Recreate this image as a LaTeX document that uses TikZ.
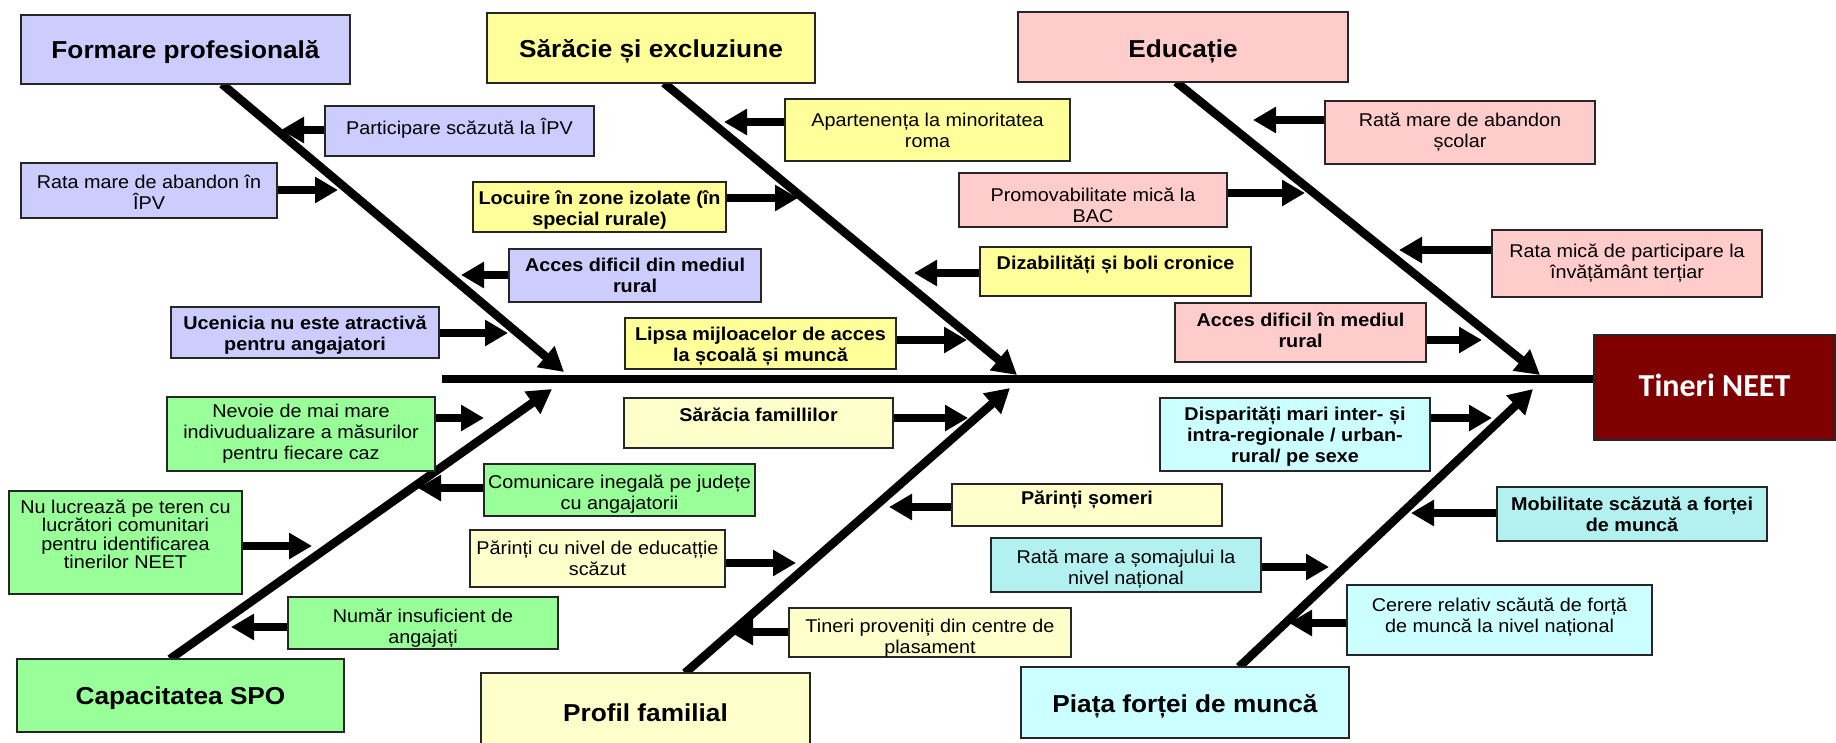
\documentclass[tikz,border=0pt]{standalone}
\usepackage{fontspec}
\setmainfont{Liberation Sans}[FakeStretch=1.07]
\newfontfamily\neetfont{Carlito}
\usetikzlibrary{arrows.meta,backgrounds}
\definecolor{lav}{HTML}{CCCCFF}
\definecolor{yel}{HTML}{FFFF99}
\definecolor{pnk}{HTML}{FFCCCC}
\definecolor{grn}{HTML}{99FF99}
\definecolor{lyel}{HTML}{FFFFCC}
\definecolor{cyn}{HTML}{CCFFFF}
\definecolor{cyntwo}{HTML}{B3F0F0}
\definecolor{neet}{HTML}{800000}
\tikzset{
  boxst/.style={draw=black!85, line width=1.4pt, inner sep=0pt, outer sep=0pt},
  titlebox/.style={boxst, line width=1.8pt},
  txt/.style={align=center, inner sep=0pt, font=\fontsize{18.5}{21}\selectfont},
  txtb/.style={txt, font=\fontsize{18.5}{21}\selectfont\bfseries},
  ttl/.style={align=center, inner sep=0pt, font=\fontsize{24.5}{28}\selectfont\bfseries},
  sarrow/.style={line width=8.5pt, -{Triangle[length=23pt,width=25pt]}},
  bone/.style={line width=8.5pt, -{Triangle[length=24pt,width=26pt]}},
  spine/.style={line width=8.5pt}
}
% #1 text shift (up), #2 name, #3 x1, #4 y1, #5 x2, #6 y2, #7 fill, #8 box style, #9 text style + text
\newcommand\mkbox[9]{%
  \node[#8,fill=#7,minimum width={(#5-#3)*1pt},minimum height={(#6-#4)*1pt},anchor=north west] (#2) at (#3,#4) {};
  \node[#9] (#2t) at ([yshift=#1pt]#2.center)}
\begin{document}
\begin{tikzpicture}[x=1pt,y=-1pt]
\useasboundingbox (0,0) rectangle (1836,742);
% main boxes
\mkbox{-3}{F}{21}{15}{350}{84}{lav}{titlebox}{ttl}{Formare profesională};
\mkbox{-3}{S}{487}{13}{815}{83}{yel}{titlebox}{ttl}{Sărăcie și excluziune};
\mkbox{-4}{E}{1018}{12}{1348}{82}{pnk}{titlebox}{ttl}{Educație};
\mkbox{-3}{C}{17}{659}{344}{732}{grn}{titlebox}{ttl}{Capacitatea SPO};
\mkbox{-3}{P}{481}{673}{810}{746}{lyel}{titlebox}{ttl}{Profil familial};
\mkbox{-4}{M}{1021}{667}{1349}{738}{cyn}{titlebox}{ttl}{Piața forței de muncă};
\mkbox{2}{T}{1594}{335}{1835}{440}{neet}{titlebox}{align=center,inner sep=0pt,text=white,font=\neetfont\bfseries\fontsize{32}{36}\selectfont}{Tineri NEET};
% sub boxes
\mkbox{3}{b1}{325}{106}{594}{156}{lav}{boxst}{txt}{Participare scăzută la ÎPV};
\mkbox{-2}{b2}{21}{163}{277}{218}{lav}{boxst}{txt}{Rata mare de abandon în\\ÎPV};
\mkbox{0}{b3}{509}{249}{761}{302}{lav}{boxst}{txtb}{Acces dificil din mediul\\rural};
\mkbox{-3}{b4}{171}{307}{439}{358}{lav}{boxst}{txtb}{Ucenicia nu este atractivă\\pentru angajatori};
\mkbox{0}{b5}{785}{99}{1070}{161}{yel}{boxst}{txt}{Apartenența la minoritatea\\roma};
\mkbox{-3}{b6}{473}{182}{726}{232}{yel}{boxst}{txtb}{Locuire în zone izolate (în\\special rurale)};
\mkbox{7}{b7}{980}{247}{1251}{296}{yel}{boxst}{txtb}{Dizabilități și boli cronice};
\mkbox{-3}{b8}{625}{318}{896}{369}{yel}{boxst}{txtb}{Lipsa mijloacelor de acces\\la școală și muncă};
\mkbox{0}{b9}{1325}{101}{1595}{164}{pnk}{boxst}{txt}{Rată mare de abandon\\școlar};
\mkbox{-5}{b10}{959}{173}{1227}{227}{pnk}{boxst}{txt}{Promovabilitate mică la\\BAC};
\mkbox{0}{b11}{1492}{230}{1762}{297}{pnk}{boxst}{txt}{Rata mică de participare la\\învățământ terțiar};
\mkbox{2}{b12}{1175}{303}{1426}{362}{pnk}{boxst}{txtb}{Acces dificil în mediul\\rural};
\mkbox{0}{b13}{167}{397}{435}{471}{grn}{boxst}{txt}{Nevoie de mai mare\\indivudualizare a măsurilor\\pentru fiecare caz};
\mkbox{-4}{b14}{484}{464}{755}{516}{grn}{boxst}{txt}{Comunicare inegală pe județe\\cu angajatorii};
\mkbox{8}{b15}{9}{491}{242}{594}{grn}{boxst}{txt,font=\fontsize{18.5}{18.5}\selectfont}{Nu lucrează pe teren cu\\lucrători comunitari\\pentru identificarea\\tinerilor NEET};
\mkbox{-5}{b16}{288}{597}{558}{649}{grn}{boxst}{txt}{Număr insuficient de\\angajați};
\mkbox{8}{b17}{624}{398}{893}{448}{lyel}{boxst}{txtb}{Sărăcia famillilor};
\mkbox{0}{b18}{470}{530}{725}{587}{lyel}{boxst}{txt}{Părinți cu nivel de educațție\\scăzut};
\mkbox{5}{b19}{952}{484}{1222}{526}{lyel}{boxst}{txtb}{Părinți șomeri};
\mkbox{-6}{b20}{789}{608}{1071}{657}{lyel}{boxst}{txt}{Tineri proveniți din centre de\\plasament};
\mkbox{-2}{b21}{1160}{398}{1430}{471}{cyn}{boxst}{txtb}{Disparități mari inter- și\\intra-regionale / urban-\\rural/ pe sexe};
\mkbox{0}{b22}{1497}{487}{1767}{541}{cyntwo}{boxst}{txtb}{Mobilitate scăzută a forței\\de muncă};
\mkbox{-4}{b23}{991}{538}{1261}{592}{cyntwo}{boxst}{txt}{Rată mare a șomajului la\\nivel național};
\mkbox{3}{b24}{1347}{585}{1652}{655}{cyn}{boxst}{txt}{Cerere relativ scăută de forță\\de muncă la nivel național};
% bone end points
\coordinate (sp0) at (442,379);
\coordinate (f0) at (222,84);   \coordinate (f1) at (564,372);
\coordinate (s0) at (664,83);   \coordinate (s1) at (1017,375);
\coordinate (e0) at (1176,82);  \coordinate (e1) at (1540,375);
\coordinate (c0) at (170,659);  \coordinate (c1) at (552,389);
\coordinate (p0) at (685,673);  \coordinate (p1) at (1010,388);
\coordinate (m0) at (1239,667); \coordinate (m1) at (1533,389);
% arrow tips
\coordinate (a1) at (281,130);
\coordinate (a2) at (338,190);
\coordinate (a3) at (461,275);
\coordinate (a4) at (508,333);
\coordinate (a5) at (724,122);
\coordinate (a6) at (798,198);
\coordinate (a7) at (914,273);
\coordinate (a8) at (967,340);
\coordinate (a9) at (1253,120);
\coordinate (a10) at (1305,193);
\coordinate (a11) at (1399,250);
\coordinate (a12) at (1482,340);
\coordinate (a13) at (484,418);
\coordinate (a14) at (418,488);
\coordinate (a15) at (312,546);
\coordinate (a16) at (231,627);
\coordinate (a17) at (968,418);
\coordinate (a18) at (796,563);
\coordinate (a19) at (889,507);
\coordinate (a20) at (730,632);
\coordinate (a21) at (1492,418);
\coordinate (a22) at (1411,513);
\coordinate (a23) at (1329,567);
\coordinate (a24) at (1289,623);
\begin{scope}[on background layer]
\draw[spine] (sp0) -- (T.west |- sp0);
\draw[bone] (f0) -- (f1);
\draw[bone] (s0) -- (s1);
\draw[bone] (e0) -- (e1);
\draw[bone] (c0) -- (c1);
\draw[bone] (p0) -- (p1);
\draw[bone] (m0) -- (m1);
\draw[sarrow] (b1.west |- a1) -- (a1);
\draw[sarrow] (b2.east |- a2) -- (a2);
\draw[sarrow] (b3.west |- a3) -- (a3);
\draw[sarrow] (b4.east |- a4) -- (a4);
\draw[sarrow] (b5.west |- a5) -- (a5);
\draw[sarrow] (b6.east |- a6) -- (a6);
\draw[sarrow] (b7.west |- a7) -- (a7);
\draw[sarrow] (b8.east |- a8) -- (a8);
\draw[sarrow] (b9.west |- a9) -- (a9);
\draw[sarrow] (b10.east |- a10) -- (a10);
\draw[sarrow] (b11.west |- a11) -- (a11);
\draw[sarrow] (b12.east |- a12) -- (a12);
\draw[sarrow] (b13.east |- a13) -- (a13);
\draw[sarrow] (b14.west |- a14) -- (a14);
\draw[sarrow] (b15.east |- a15) -- (a15);
\draw[sarrow] (b16.west |- a16) -- (a16);
\draw[sarrow] (b17.east |- a17) -- (a17);
\draw[sarrow] (b18.east |- a18) -- (a18);
\draw[sarrow] (b19.west |- a19) -- (a19);
\draw[sarrow] (b20.west |- a20) -- (a20);
\draw[sarrow] (b21.east |- a21) -- (a21);
\draw[sarrow] (b22.west |- a22) -- (a22);
\draw[sarrow] (b23.east |- a23) -- (a23);
\draw[sarrow] (b24.west |- a24) -- (a24);
\end{scope}
\end{tikzpicture}
\end{document}
